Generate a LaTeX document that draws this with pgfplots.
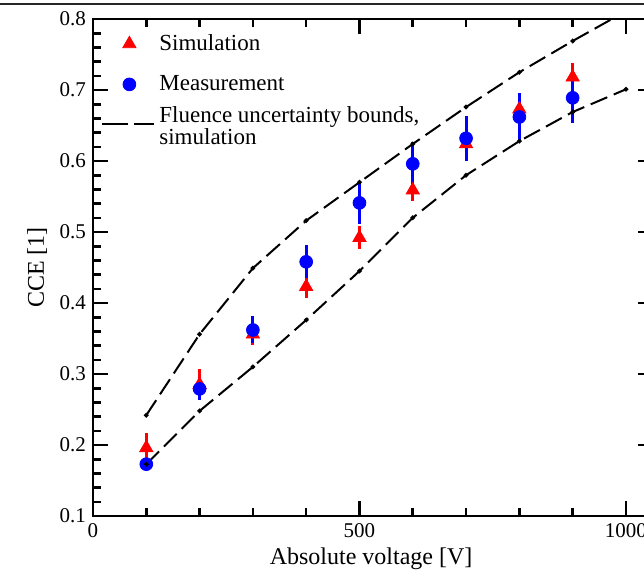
\documentclass[border=0pt]{standalone}
\usepackage{fontspec}
\setmainfont{Liberation Serif}
\usepackage{pgfplots}
\pgfplotsset{compat=1.18}
\begin{document}
\begin{tikzpicture}
\begin{axis}[
  at={(0pt,0pt)}, anchor=south west,
  scale only axis, width=279.8pt, height=248.5pt,
  xmin=0, xmax=1050, ymin=0.1, ymax=0.8,
  xtick={0,500,1000}, minor xtick={100,200,300,400,600,700,800,900},
  ytick={0.1,0.2,0.3,0.4,0.5,0.6,0.7,0.8}, minor y tick num=4,
  tick align=inside, major tick length=7.5pt, minor tick length=4pt,
  axis line style={line width=1.3pt},
  tick style={line width=1.3pt, black},
  /pgf/number format/assume math mode=true,
  yticklabel style={/pgf/number format/.cd, fixed, fixed zerofill, precision=1},
  xticklabel style={/pgf/number format/.cd, fixed, precision=0, 1000 sep={}},
  tick label style={font=\fontsize{10.5}{12}\selectfont},
  xlabel={Absolute voltage [V]},
  ylabel={CCE [1]},
  every axis x label/.style={at={(axis description cs:0.497,-0.087)}, anchor=center, font=\fontsize{12}{14}\selectfont},
  every axis y label/.style={at={(axis description cs:-0.1,0.5)}, anchor=center, rotate=90, font=\fontsize{12}{14}\selectfont},
  legend cell align=left,
  legend style={draw=none, fill=none, at={(axis description cs:0,1)}, anchor=north west,
    xshift=4pt, yshift=-5.5pt, inner sep=0pt, row sep=7pt,
    font=\fontsize{11.5}{10.5}\selectfont, nodes={align=left}},
  legend image code/.code={\draw[#1,mark repeat=2,mark phase=2] plot coordinates {(0pt,0pt) (13.5pt,0pt) (26pt,0pt)};},
]
\addplot[only marks, mark=triangle*, mark size=3.8pt, color=red,
  error bars/.cd, y dir=both, y explicit, error mark=none,
  error bar style={line width=1.5pt, red}]
  table[x=x, y=y, y error=e] {
x y e
100 0.196 0.021
200 0.285 0.022
300 0.356 0.015
400 0.423 0.016
500 0.492 0.016
600 0.559 0.015
700 0.624 0.019
800 0.673 0.020
900 0.718 0.020
};
\addlegendentry{Simulation}
\addplot[only marks, mark=*, mark size=3.2pt, color=blue,
  error bars/.cd, y dir=both, y explicit, error mark=none,
  error bar style={line width=1.5pt, blue}]
  table[x=x, y=y, y error=e] {
x y e
100 0.173 0.005
200 0.279 0.015
300 0.362 0.019
400 0.458 0.023
500 0.541 0.030
600 0.596 0.031
700 0.632 0.032
800 0.662 0.034
900 0.689 0.036
};
\addlegendentry{Measurement}
\addplot[black, line width=1pt, dash pattern=on 9pt off 3.5pt, mark=*, mark size=0.6pt, mark options={solid},
  legend image code/.code={\draw[black, line width=1pt, dash pattern=on 13pt off 3pt on 10pt] (0pt,0pt) -- (26pt,0pt);}]
  table[x=x, y=y] {
x y
100 0.242
200 0.356
300 0.449
400 0.516
500 0.570
600 0.624
700 0.676
800 0.725
900 0.769
1000 0.811
};
\addlegendentry{\raisebox{3.5pt}[7pt][2pt]{\begin{tabular}[t]{@{}l@{}}Fluence uncertainty bounds,\\simulation\end{tabular}}}
\addplot[black, line width=1pt, dash pattern=on 9pt off 3.5pt, mark=*, mark size=0.6pt, mark options={solid}, forget plot]
  table[x=x, y=y] {
x y
100 0.173
200 0.248
300 0.310
400 0.376
500 0.445
600 0.520
700 0.580
800 0.628
900 0.669
1000 0.701
};
\end{axis}
\draw[black!85, line width=0.9pt] (-46.5pt,256pt) -- (275.5pt,256pt);
\pgfresetboundingbox
\useasboundingbox (-46.5pt,-26.5pt) rectangle (275.5pt,258pt);
\end{tikzpicture}
\end{document}
